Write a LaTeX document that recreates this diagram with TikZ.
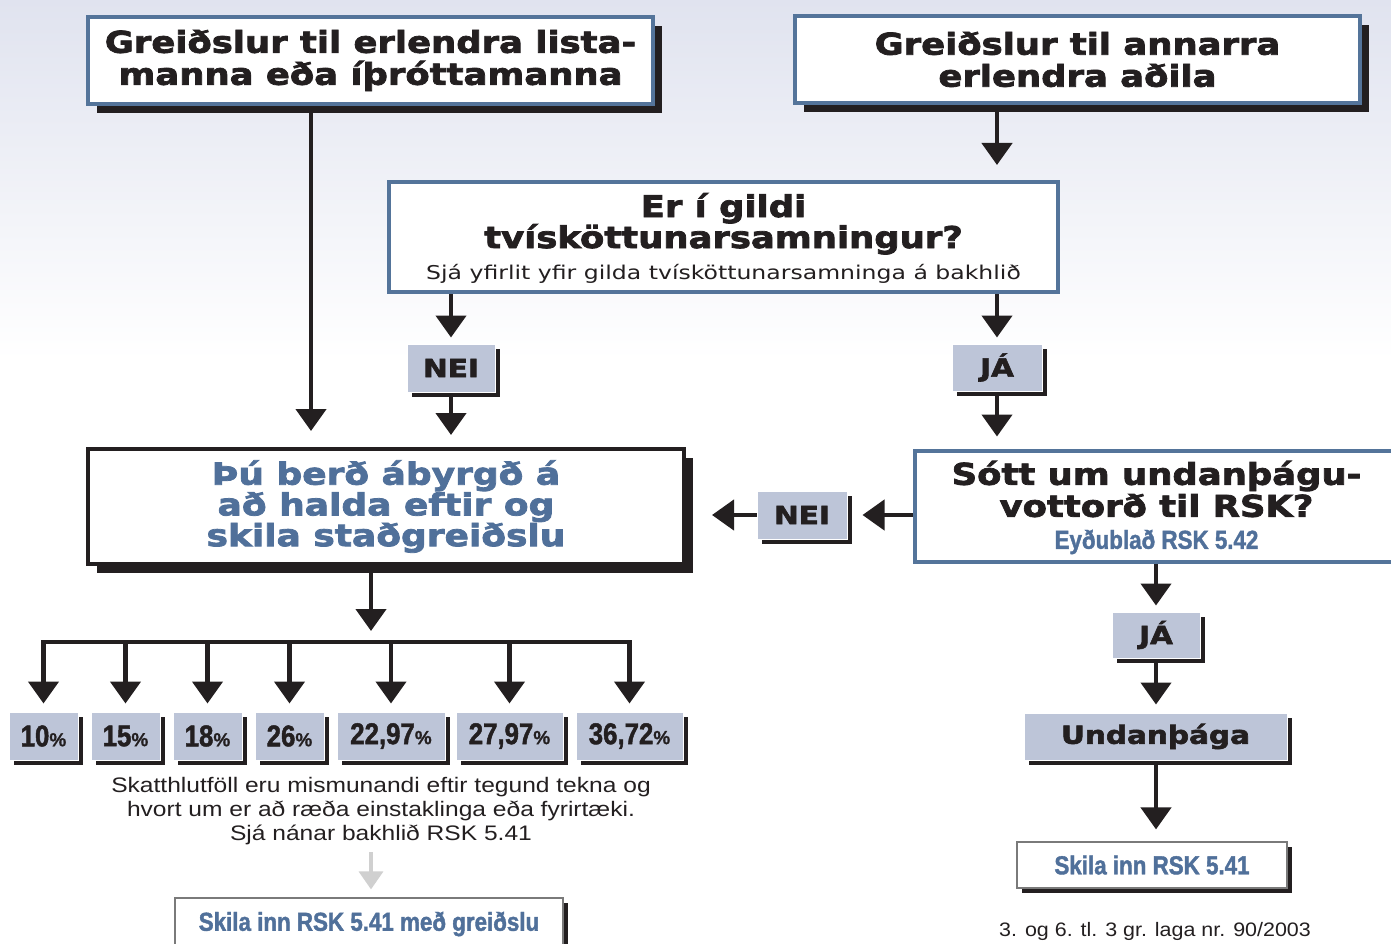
\documentclass[tikz,border=0pt]{standalone}
\usepackage{fontspec}
\usetikzlibrary{arrows.meta,shadows}
\setmainfont{Liberation Sans}
\newfontfamily\heavy{DejaVu Sans}[UprightFont={* Bold},FakeStretch=1.18,FakeBold=2.5]
\newfontfamily\wide{DejaVu Sans}[FakeStretch=1.24]
\newfontfamily\cond{Liberation Sans}[UprightFont={* Bold},FakeStretch=0.86,FakeBold=1.5]
\newfontfamily\pctf{Liberation Sans}[UprightFont={* Bold},FakeBold=1]
\newfontfamily\notef{Liberation Sans}[FakeStretch=1.17]
\newfontfamily\footf{Liberation Sans}[FakeStretch=1.1]
\definecolor{ink}{HTML}{231F20}
\definecolor{bord}{HTML}{54749A}
\definecolor{tblue}{HTML}{50709A}
\definecolor{boxgray}{HTML}{BDC5D8}
\definecolor{bgtop}{HTML}{E0E3EF}
\definecolor{lightarr}{HTML}{D0D0D0}
\definecolor{thinline}{HTML}{7A7A7A}
\newcommand\pctxt[1]{{\cond\fontsize{30}{30}\selectfont #1}{\pctf\fontsize{19}{19}\selectfont\%}}
\pgfdeclarelayer{bg}
\pgfsetlayers{bg,main}
\tikzset{
  shadowed/.style={drop shadow={shadow xshift=#1,shadow yshift=-#1,fill=ink,opacity=1}},
  hbox/.style={draw=bord,line width=4pt,fill=white,inner sep=0pt,align=center,text=ink},
  headfont/.style={font=\heavy\fontsize{30}{32}\selectfont},
  gbox/.style={fill=boxgray,draw=white,line width=1pt,inner sep=0pt,text=ink,shadowed=5pt},
  pbox/.style={gbox,minimum height=48pt},
  wbox/.style={fill=white,draw=thinline,line width=1.2pt,inner sep=0pt,text=tblue,
     font=\cond\fontsize{26}{26}\selectfont,shadowed=5pt},
  arr/.style={draw=ink,line width=4.5pt,-{Triangle[width=30pt,length=22pt]}},
  grayarr/.style={draw=lightarr,line width=3.5pt,-{Triangle[width=24pt,length=18pt]}},
}
\begin{document}
\begin{tikzpicture}[x=1pt,y=-1pt]
\useasboundingbox (0,0) rectangle (1391,944);
% boxes
\node[hbox,headfont,shadowed=9pt,minimum width=565pt,minimum height=87pt] (b1) at (370.5,60.5)
  {Greiðslur til erlendra lista-\\manna eða íþróttamanna};
\node[hbox,headfont,shadowed=9pt,minimum width=565pt,minimum height=87pt] (b2) at (1077.5,59.5)
  {Greiðslur til annarra\\erlendra aðila};
\node[hbox,minimum width=669pt,minimum height=110pt,font=\heavy\fontsize{30}{31}\selectfont] (q1) at (723.5,237)
  {\rule{0pt}{26pt}Er í gildi\\tvísköttunarsamningur?\\{\wide\fontsize{19}{20}\selectfont Sjá yfirlit yfir gilda tvísköttunarsamninga á bakhlið}};
\node[gbox,minimum width=88pt,minimum height=48pt,font=\heavy\fontsize{25}{25}\selectfont] (nei1) at (451,368) {NEI};
\node[gbox,minimum width=90pt,minimum height=47pt,font=\heavy\fontsize{25}{25}\selectfont] (ja1) at (997,367.5) {JÁ};
\node[draw=ink,line width=4pt,fill=white,inner sep=0pt,align=center,text=tblue,shadowed=9pt,
  minimum width=596pt,minimum height=115pt,font=\heavy\fontsize{30.5}{29}\selectfont] (resp) at (386,506.5)
  {Þú berð ábyrgð á\\að halda eftir og\\skila staðgreiðslu};
\node[hbox,minimum width=483pt,minimum height=111pt,font=\heavy\fontsize{30}{32}\selectfont] (q2) at (1156.5,506)
  {\rule{0pt}{27pt}Sótt um undanþágu-\\vottorð til RSK?\\{\cond\fontsize{26}{26}\selectfont\color{tblue}Eyðublað RSK 5.42}};
\node[gbox,minimum width=90pt,minimum height=48pt,font=\heavy\fontsize{25}{25}\selectfont] (nei2) at (802,515) {NEI};
\node[gbox,minimum width=88pt,minimum height=46pt,font=\heavy\fontsize{25}{25}\selectfont] (ja2) at (1156,635) {JÁ};
\node[gbox,minimum width=263pt,minimum height=47pt,font=\heavy\fontsize{25}{25}\selectfont] (und) at (1155.5,736.5) {Undanþága};
\node[wbox,minimum width=270pt,minimum height=46pt] (skila2) at (1152,865) {Skila inn RSK 5.41};
\node[wbox,minimum width=388pt,minimum height=52pt] (skila1) at (369,924) {\raisebox{2pt}{Skila inn RSK 5.41 með greiðslu}};
% percentages
\node[pbox,minimum width=69pt] (p1) at (43.5,736) {\pctxt{10}};
\node[pbox,minimum width=69pt] (p2) at (125.5,736) {\pctxt{15}};
\node[pbox,minimum width=69pt] (p3) at (207.5,736) {\pctxt{18}};
\node[pbox,minimum width=69pt] (p4) at (289.5,736) {\pctxt{26}};
\node[pbox,minimum width=108pt] (p5) at (391,736) {\pctxt{22,97}};
\node[pbox,minimum width=107pt] (p6) at (509.5,736) {\pctxt{27,97}};
\node[pbox,minimum width=107pt] (p7) at (629.5,736) {\pctxt{36,72}};
% texts
\node[align=center,text=ink,font=\notef\fontsize{21}{24}\selectfont] (note) at (381,811)
  {Skatthlutföll eru mismunandi eftir tegund tekna og\\hvort um er að ræða einstaklinga eða fyrirtæki.\\Sjá nánar bakhlið RSK 5.41};
\node[text=ink,font=\footf\fontsize{19.5}{22}\selectfont] (foot) at (1155,931) {3. og 6. tl. 3 gr. laga nr. 90/2003};
% connectors
\coordinate (xa) at (311,0);
\coordinate (xr) at (371,0);
\coordinate (barY) at (0,642);
\coordinate (g0) at (371,852);
\begin{pgfonlayer}{bg}
\shade[top color=bgtop,bottom color=white] (0,0) rectangle (1391,360);
\draw[arr,shorten >=16pt] (b1.south -| xa) -- (resp.north -| xa);
\draw[arr,shorten >=15pt] (b2.south -| ja1) -- (q1.north -| ja1);
\draw[arr,shorten >=6pt] (q1.south -| nei1) -- (nei1.north);
\draw[arr,shorten >=6pt] (q1.south -| ja1) -- (ja1.north);
\draw[arr,shorten >=12pt] (nei1.south) -- (resp.north -| nei1);
\draw[arr,shorten >=12pt] (ja1.south) -- (q2.north -| ja1);
\draw[arr,shorten >=15pt] (q2.west |- nei2) -- (nei2.east);
\draw[arr,shorten >=26pt] (nei2.west) -- (resp.east |- nei2);
\draw[arr,shorten >=11pt] (resp.south -| xr) -- (barY -| xr);
\draw[draw=ink,line width=4.5pt,line cap=rect] (p1.north |- barY) -- (p7.north |- barY);
\foreach \p in {p1,p2,p3,p4,p5,p6,p7}
  \draw[arr,shorten >=8pt] (\p.north |- barY) -- (\p.north);
\draw[arr,shorten >=6pt] (q2.south -| ja2) -- (ja2.north);
\draw[arr,shorten >=8pt] (ja2.south) -- (und.north -| ja2);
\draw[arr,shorten >=12pt] (und.south -| ja2) -- (skila2.north -| ja2);
\draw[grayarr,shorten >=8pt] (g0) -- (skila1.north -| g0);
\end{pgfonlayer}
\end{tikzpicture}
\end{document}
